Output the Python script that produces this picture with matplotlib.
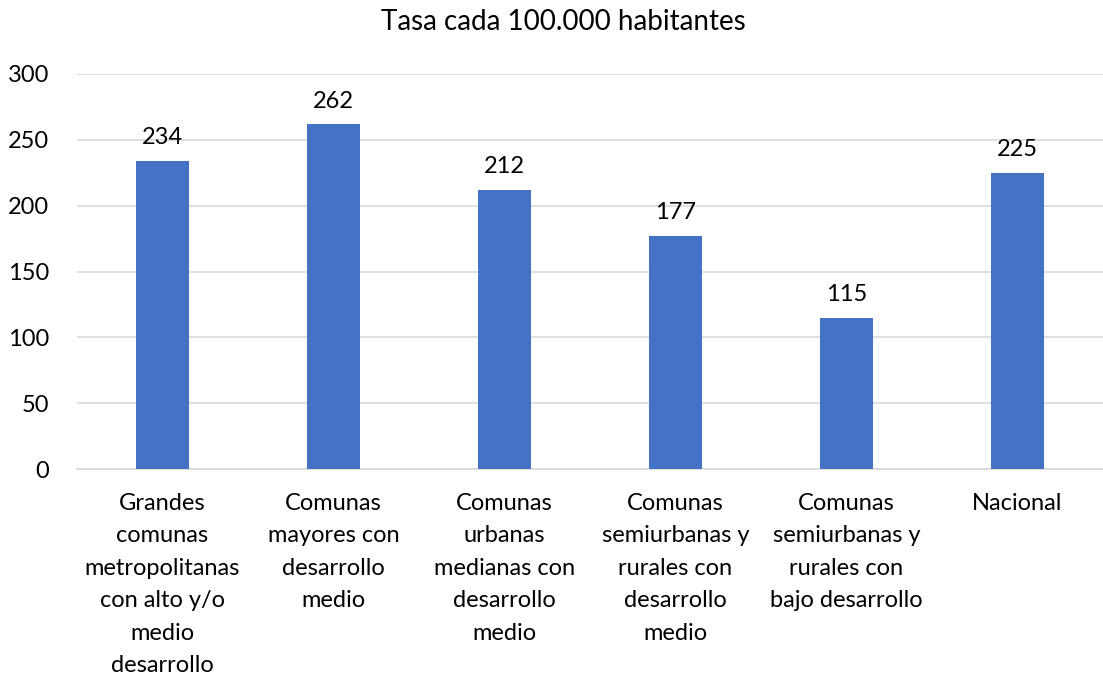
import matplotlib
matplotlib.use("Agg")
import matplotlib.pyplot as plt

categories = [
    "Grandes\ncomunas\nmetropolitanas\ncon alto y/o\nmedio\ndesarrollo",
    "Comunas\nmayores con\ndesarrollo\nmedio",
    "Comunas\nurbanas\nmedianas con\ndesarrollo\nmedio",
    "Comunas\nsemiurbanas y\nrurales con\ndesarrollo\nmedio",
    "Comunas\nsemiurbanas y\nrurales con\nbajo desarrollo",
    "Nacional",
]
values = [234, 262, 212, 177, 115, 225]
yticks = [0, 50, 100, 150, 200, 250, 300]
title = "Tasa cada 100.000 habitantes"

plt.rcParams['font.family'] = ['Lato', 'DejaVu Sans']
FS = 17

fig = plt.figure(figsize=(11.03, 6.81), dpi=100)
ax = fig.add_axes([77/1103, 212/681, 1026/1103, 395/681])
x = list(range(len(categories)))
bars = ax.bar(x, values, width=0.31, color="#4472C4", zorder=3)
ax.set_xlim(-0.5, len(categories) - 0.5)
ax.set_ylim(0, 300)
ax.set_yticks(yticks)
ax.set_yticklabels([str(v) for v in yticks], fontsize=FS)
ax.yaxis.grid(True, color="#D9D9D9", linewidth=1.2, zorder=0)
ax.set_xticks(x)
ax.set_xticklabels(categories, fontsize=FS, linespacing=1.68, va="top")
ax.tick_params(axis="both", length=0)
ax.tick_params(axis="x", pad=17)
ax.tick_params(axis="y", pad=20)
for s in ["top", "right", "left"]:
    ax.spines[s].set_visible(False)
ax.spines["bottom"].set_color("#D9D9D9")
ax.spines["bottom"].set_linewidth(1.2)
for b, v in zip(bars, values):
    ax.annotate(str(v), (b.get_x() + b.get_width() / 2, v), xytext=(0, 9),
                textcoords="offset points", ha="center", va="bottom", fontsize=FS)
fig.text(563/1103, 1 - 22/681, title, ha="center", va="center", fontsize=20)
fig.savefig("out.png", dpi=100)
